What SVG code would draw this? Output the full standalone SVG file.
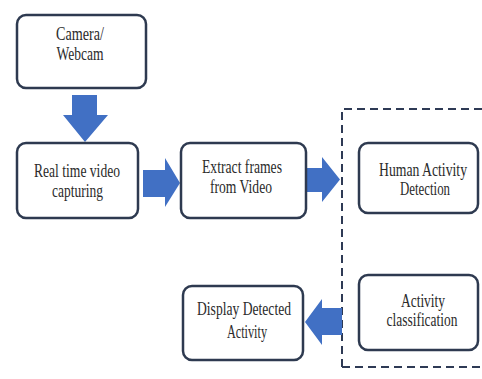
<svg xmlns="http://www.w3.org/2000/svg" width="482" height="379" viewBox="0 0 482 379">
  <style>
    .box { fill: #ffffff; stroke: #2e3a50; stroke-width: 2.5; }
    .lbl { font-family: "Liberation Serif", "Times New Roman", serif; font-size: 18px; fill: #2b2b2b; text-anchor: middle; }
    .arrow { fill: #4170c4; }
    .group { fill: none; stroke: #2e3a55; stroke-width: 2; stroke-dasharray: 8 5; }
  </style>
  <rect width="482" height="379" fill="#ffffff"/>

  <!-- dashed processing boundary -->
  <path class="group" d="M342,367 L342,109 L486,109 M342,367 L486,367"/>

  <!-- block arrows -->
  <g id="connectors">
    <polygon class="arrow" points="72,95 97,95 97,115 108,115 85,142 63,115 72,115"/>
    <polygon class="arrow" points="143,170 165,170 165,158 180,183 165,207 165,197 143,197"/>
    <polygon class="arrow" points="303,168 322,168 322,157 340,179.5 322,202 322,192 303,192"/>
    <polygon class="arrow" points="342,308 322,308 322,299 305,322 322,345 322,335 342,335"/>
  </g>

  <g id="camera">
    <rect class="box" x="17" y="15" width="129" height="73" rx="9"/>
    <text class="lbl" x="80" y="40" textLength="48" lengthAdjust="spacingAndGlyphs">Camera/</text>
    <text class="lbl" x="80" y="60" textLength="47" lengthAdjust="spacingAndGlyphs">Webcam</text>
  </g>

  <g id="capture">
    <rect class="box" x="17" y="143" width="121" height="75" rx="9"/>
    <text class="lbl" x="77" y="177" textLength="86" lengthAdjust="spacingAndGlyphs">Real time video</text>
    <text class="lbl" x="77.5" y="197" textLength="51" lengthAdjust="spacingAndGlyphs">capturing</text>
  </g>

  <g id="extract">
    <rect class="box" x="181" y="143" width="125" height="75" rx="9"/>
    <text class="lbl" x="242" y="173" textLength="80" lengthAdjust="spacingAndGlyphs">Extract frames</text>
    <text class="lbl" x="241" y="193" textLength="62" lengthAdjust="spacingAndGlyphs">from Video</text>
  </g>

  <g id="detection">
    <rect class="box" x="359" y="143" width="119" height="70" rx="9"/>
    <text class="lbl" x="423" y="176" textLength="88" lengthAdjust="spacingAndGlyphs">Human Activity</text>
    <text class="lbl" x="425" y="195" textLength="50" lengthAdjust="spacingAndGlyphs">Detection</text>
  </g>

  <g id="classification">
    <rect class="box" x="359" y="275" width="119" height="75" rx="9"/>
    <text class="lbl" x="423" y="307" textLength="44" lengthAdjust="spacingAndGlyphs">Activity</text>
    <text class="lbl" x="422" y="326" textLength="71" lengthAdjust="spacingAndGlyphs">classification</text>
  </g>

  <g id="display">
    <rect class="box" x="183" y="286" width="120" height="74" rx="9"/>
    <text class="lbl" x="244" y="315" textLength="94" lengthAdjust="spacingAndGlyphs">Display Detected</text>
    <text class="lbl" x="247" y="338" textLength="40" lengthAdjust="spacingAndGlyphs">Activity</text>
  </g>
</svg>
